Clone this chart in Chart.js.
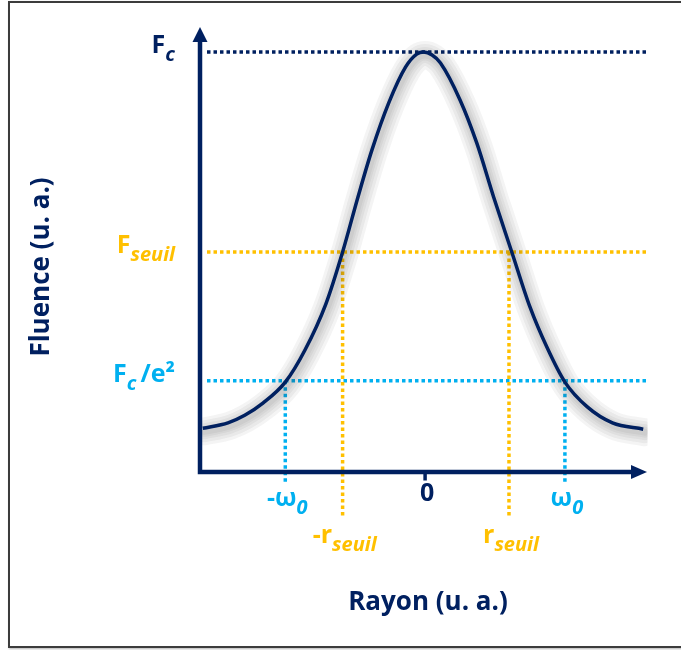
<!DOCTYPE html>
<html>
<head>
<meta charset="utf-8">
<script src="https://cdn.jsdelivr.net/npm/chart.js@4/dist/chart.umd.min.js"></script>
<style>
html, body { margin: 0; padding: 0; background: #fff; overflow: hidden; }
#frame { position: absolute; left: 8px; top: 1px; width: 700px; height: 643px; border: 2px solid #3c3c3c; box-shadow: 1px 1px 2px rgba(0,0,0,0.3); }
#wrap { position: absolute; left: 0; top: 0; width: 681px; height: 650px; }
</style>
</head>
<body>
<div id="frame"></div>
<div id="wrap"><canvas id="myChart" width="681" height="650"></canvas></div>
<script>
// profil gaussien (x en unités de w0, y en unités de Fc)
const curveX = [-1.59, -1.41, -1.29, -1.16, -1.0, -0.86, -0.71, -0.59, -0.48, -0.38, -0.26, -0.14, -0.06, -0.01, 0.05, 0.11, 0.25, 0.37, 0.49, 0.62, 0.75, 0.87, 1.0, 1.16, 1.34, 1.56];
const curveY = [0.104, 0.117, 0.135, 0.164, 0.214, 0.29, 0.40, 0.524, 0.655, 0.767, 0.879, 0.964, 0.995, 1.0, 0.993, 0.974, 0.886, 0.783, 0.655, 0.524, 0.393, 0.298, 0.214, 0.155, 0.117, 0.102];

// niveaux horizontaux : Fc, Fseuil, Fc/e²
const levelValues = [1.0, 0.524, 0.217];
const levelLabels = [[['F', 0], ['c', 1]], [['F', 0], ['seuil', 1]], [['F', 0], ['c', 1], ['/e²', 0]]];

// repères sur l'axe des rayons : -w0, -rseuil, 0, rseuil, w0
const markX = [-1.0, -0.59, 0, 0.6, 1.0];
const markTop = [0.217, 0.524, 0, 0.524, 0.217];
const markBottom = [-0.03, -0.11, -0.02, -0.11, -0.03];
const markLabels = [[['-ω', 0], ['0', 1]], [['-r', 0], ['seuil', 1]], [['0', 0]], [['r', 0], ['seuil', 1]], [['ω', 0], ['0', 1]]];

const xMin = -1.61, xMax = 1.58;
const yMin = -0.13, yMax = 1.062;

const NAVY = '#002060';
const AMBER = '#FFC000';
const CYAN = '#00B0F0';
const levelColors = [NAVY, AMBER, CYAN];
const markColors = [CYAN, AMBER, NAVY, AMBER, CYAN];
const FONT = '"Open Sans", sans-serif';

function drawRich(ctx, parts, x, y, align, color) {
    const mainFont = 'bold 25px ' + FONT;
    const subFont = 'italic bold 20px ' + FONT;
    let total = 0;
    const widths = parts.map((p, i) => {
        ctx.font = p[1] ? subFont : mainFont;
        let w = ctx.measureText(p[0]).width;
        if (p[1] && i < parts.length - 1) w += 4;
        total += w;
        return w;
    });
    let cx = align === 'right' ? x - total : (align === 'center' ? x - total / 2 : x);
    ctx.fillStyle = color;
    ctx.textBaseline = 'alphabetic';
    ctx.textAlign = 'left';
    parts.forEach((p, i) => {
        ctx.font = p[1] ? subFont : mainFont;
        ctx.fillText(p[0], cx, p[1] ? y + 8 : y);
        cx += widths[i];
    });
}

const curvePoints = curveX.map((x, i) => ({ x: x, y: curveY[i] }));
const datasets = [];
// courbe
datasets.push({
    data: curvePoints,
    borderColor: NAVY,
    borderWidth: 3.5,
    pointRadius: 0,
    showLine: true,
    cubicInterpolationMode: 'monotone',
    order: 0
});
// halo gris sous la courbe
const haloWidths = [28, 22, 16, 11, 7];
haloWidths.forEach(w => {
    datasets.push({
        data: curvePoints,
        borderColor: 'rgba(60,60,60,0.055)',
        borderWidth: w,
        pointRadius: 0,
        showLine: true,
        cubicInterpolationMode: 'monotone',
        borderCapStyle: 'round',
        borderJoinStyle: 'round',
        order: 1,
        halo: true
    });
});
// lignes horizontales pointillées
levelValues.forEach((v, i) => {
    datasets.push({
        data: [{ x: -1.56, y: v }, { x: xMax, y: v }],
        borderColor: levelColors[i],
        borderWidth: 3.5,
        borderDash: [3.5, 3],
        pointRadius: 0,
        showLine: true,
        order: 3
    });
});
// lignes verticales
markX.forEach((x, i) => {
    const dotted = markTop[i] > 0;
    datasets.push({
        data: [{ x: x, y: markTop[i] }, { x: x, y: markBottom[i] }],
        borderColor: markColors[i],
        borderWidth: 3.5,
        borderDash: dotted ? [3.5, 3] : [],
        pointRadius: 0,
        showLine: true,
        order: 2
    });
});

const haloPlugin = {
    id: 'halo',
    beforeDatasetDraw(chart, args) {
        if (!chart.data.datasets[args.index].halo) return;
        chart.ctx.save();
        chart.ctx.translate(1.5, 3);
    },
    afterDatasetDraw(chart, args) {
        if (!chart.data.datasets[args.index].halo) return;
        chart.ctx.restore();
    }
};

const axesPlugin = {
    id: 'axes',
    afterDatasetsDraw(chart) {
        const ctx = chart.ctx;
        const xs = chart.scales.x, ys = chart.scales.y;
        const ax = xs.getPixelForValue(xMin);
        const ay = ys.getPixelForValue(0);
        const topY = ys.getPixelForValue(yMax) + 1;
        const rightX = xs.getPixelForValue(xMax) + 1;
        ctx.save();
        ctx.strokeStyle = NAVY;
        ctx.fillStyle = NAVY;
        ctx.lineWidth = 4.5;
        ctx.lineCap = 'butt';
        ctx.beginPath();
        ctx.moveTo(ax, ay + 2.25);
        ctx.lineTo(ax, topY + 12);
        ctx.moveTo(ax - 2.25, ay);
        ctx.lineTo(rightX - 12, ay);
        ctx.stroke();
        // flèches
        ctx.beginPath();
        ctx.moveTo(ax, topY);
        ctx.lineTo(ax + 7.5, topY + 15);
        ctx.lineTo(ax - 7.5, topY + 15);
        ctx.closePath();
        ctx.fill();
        ctx.beginPath();
        ctx.moveTo(rightX, ay);
        ctx.lineTo(rightX - 16, ay - 7);
        ctx.lineTo(rightX - 16, ay + 7);
        ctx.closePath();
        ctx.fill();

        // étiquettes des niveaux
        levelValues.forEach((v, i) => {
            drawRich(ctx, levelLabels[i], ax - 25, ys.getPixelForValue(v) + 1, 'right', levelColors[i]);
        });
        // étiquettes des rayons
        markX.forEach((x, i) => {
            const base = ys.getPixelForValue(markBottom[i]) + (markTop[i] > 0.3 ? 25 : 21);
            drawRich(ctx, markLabels[i], xs.getPixelForValue(x) + 2, base, 'center', markColors[i]);
        });

        // titres des axes
        ctx.fillStyle = NAVY;
        ctx.font = 'bold 26px ' + FONT;
        ctx.textAlign = 'center';
        ctx.textBaseline = 'middle';
        ctx.fillText('Rayon (u. a.)', 428, 603);
        ctx.translate(42, 267);
        ctx.rotate(-Math.PI / 2);
        ctx.fillText('Fluence (u. a.)', 0, 0);
        ctx.restore();
    }
};

const ctx = document.getElementById('myChart').getContext('2d');
const myChart = new Chart(ctx, {
    type: 'scatter',
    data: { datasets: datasets },
    options: {
        responsive: false,
        animation: false,
        devicePixelRatio: 1,
        layout: { padding: { left: 200, right: 35, top: 26, bottom: 123.4 } },
        plugins: { legend: { display: false }, tooltip: { enabled: false } },
        scales: {
            x: { type: 'linear', min: xMin, max: xMax, display: false },
            y: { type: 'linear', min: yMin, max: yMax, display: false }
        }
    },
    plugins: [haloPlugin, axesPlugin]
});
</script>
</body>
</html>
